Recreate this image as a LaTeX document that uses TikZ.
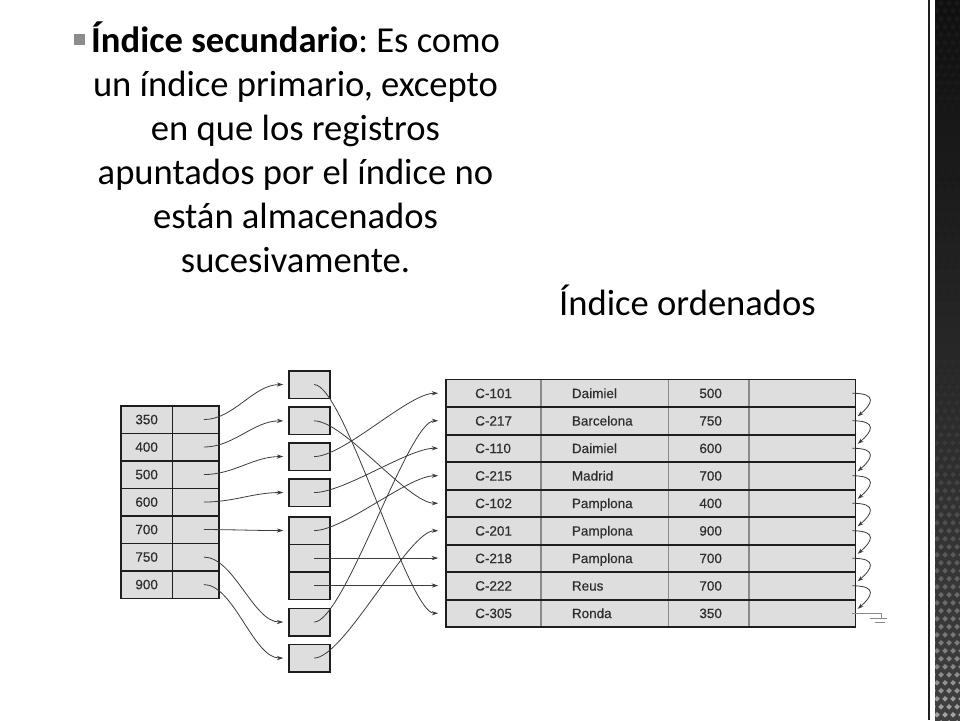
\documentclass[tikz,border=0pt]{standalone}
\usepackage{fontspec}
\setmainfont{Carlito}
\newfontfamily\tabfont{Liberation Sans}[FakeBold=0.4]
\usetikzlibrary{arrows.meta}
\definecolor{cellgray}{HTML}{DEDEDE}
\definecolor{linedark}{HTML}{1E1E1E}
\definecolor{ptrcol}{HTML}{3C3C3C}
\definecolor{txtcol}{HTML}{2E2E2E}
\definecolor{colgray}{HTML}{8A8A8A}
\definecolor{bulletgray}{HTML}{8C8C8C}
\frenchspacing
\begin{document}
\begin{tikzpicture}[x=1pt,y=-1pt,
  titletxt/.style={font=\fontsize{36.6}{44}\selectfont, anchor=base, inner sep=0pt},
  rowbox/.style={fill=cellgray, anchor=north west, inner sep=0pt, minimum height=27.5pt},
  cellbox/.style={draw=linedark, line width=1.6pt, fill=cellgray, anchor=north west, inner sep=0pt, minimum height=27.5pt, font=\tabfont\fontsize{13.5}{15}\selectfont, text=txtcol},
  bucket/.style={cellbox, minimum width=41pt},
  tabtxt/.style={font=\tabfont\fontsize{13.5}{15}\selectfont, text=txtcol, anchor=base west, inner sep=0pt},
  ptr/.style={draw=ptrcol, line width=0.8pt, -{Stealth[length=6.5pt,width=4.2pt]}},
]
\useasboundingbox (0,0) rectangle (960,720);
\fill[white] (0,0) rectangle (960,720);

% ---- right decorative strip
\fill[linedark] (927.5,0) rectangle (929.8,720);
\shade[top color=black!94, bottom color=black!75] (935,0) rectangle (960,720);
\begin{scope}
\clip (935,0) rectangle (960,720);
\foreach \j in {0,...,90}{
  \pgfmathtruncatemacro\dpct{10+56*(\j/90)*(\j/90)*(\j/90)}
  \definecolor{dmcol}{gray}{0.\ifnum\dpct<10 0\fi\dpct}
  \foreach \i in {0,...,3}{
    \fill[dmcol] ({933+\i*8+mod(\j,2)*4},{\j*8}) -- ++(2.8,2.8) -- ++(-2.8,2.8) -- ++(-2.8,-2.8) -- cycle;
  }
}
\end{scope}

% ---- title text
\node[titletxt] (t1) at (295.5,52) {\textbf{Índice secundario}: Es como};
\node[titletxt] (t2) at (295.5,96) {un índice primario, excepto};
\node[titletxt] (t3) at (295.5,140) {en que los registros};
\node[titletxt] (t4) at (295.5,184) {apuntados por el índice no};
\node[titletxt] (t5) at (295.5,228) {están almacenados};
\node[titletxt] (t6) at (295.5,272) {sucesivamente.};
\node[fill=bulletgray, minimum size=11pt, inner sep=0pt, anchor=south east] (bul) at ([xshift=-6pt,yshift=7pt]t1.base west) {};
\node[titletxt] (ord) at (687.5,315) {Índice ordenados};

% ---- left index table
\foreach \v [count=\i] in {350,400,500,600,700,750,900}{
  \node[cellbox, minimum width=51.7pt] (la\i) at (120,{405+27.5*(\i-1)}) {\v};
  \node[cellbox, minimum width=46.6pt] (lb\i) at (171.7,{405+27.5*(\i-1)}) {};
}

% ---- middle buckets
\node[bucket] (m1) at (288.3,370) {};
\node[bucket] (m2) at (288.3,406.3) {};
\node[bucket] (m3) at (288.3,442) {};
\node[bucket] (m4) at (288.3,478) {};
\node[bucket] (m5a) at (288.3,516) {};
\node[bucket] (m5b) at (288.3,543.5) {};
\node[bucket] (m5c) at (288.3,571) {};
\node[bucket] (m6) at (288.3,607.5) {};
\node[bucket] (m7) at (288.3,643.5) {};

% ---- right data table
\foreach \i in {1,...,9}{
  \node[rowbox, minimum width=409.3pt] (r\i) at (445.7,{379.3+27.5*(\i-1)}) {};
}
\foreach \x in {541,668.3,749}{
  \draw[colgray, line width=1.1pt] (\x,379.3) -- (\x,626.8);
}
\foreach \i in {1,...,9}{
  \draw[linedark, line width=1.6pt] (r\i.north west) rectangle (r\i.south east);
}
\foreach \c/\n/\b [count=\i] in {C-101/Daimiel/500, C-217/Barcelona/750, C-110/Daimiel/600, C-215/Madrid/700, C-102/Pamplona/400, C-201/Pamplona/900, C-218/Pamplona/700, C-222/Reus/700, C-305/Ronda/350}{
  \path (r\i.west) ++(29.3,4.8) node[tabtxt] (c\i) {\c};
  \path (r\i.west) ++(126,4.8) node[tabtxt] (n\i) {\n};
  \path (r\i.west) ++(253.5,4.8) node[tabtxt] (b\i) {\b};
}

% ---- pointers: left table -> buckets
\foreach \a/\m in {1/m1,2/m2,3/m3,4/m4,5/m5a,6/m6,7/m7}{
  \draw[ptr] ([xshift=8pt]lb\a.center) .. controls +(30,0) and +(-30,0) .. ([xshift=-5pt]\m.west);
}

% ---- pointers: buckets -> data rows
\foreach \m/\r in {m1/r9,m2/r5,m3/r1,m4/r3,m5a/r4,m6/r2,m7/r6}{
  \draw[ptr] ([xshift=4.5pt]\m.center) .. controls +(30,0) and +(-30,0) .. ([xshift=-7.5pt]\r.west);
}
\draw[ptr] ([xshift=4.5pt]m5b.center) -- ([xshift=-7.5pt]m5b.center -| r7.west);
\draw[ptr] ([xshift=4.5pt]m5c.center) -- ([xshift=-7.5pt]m5c.center -| r8.west);

% ---- chain pointers on the right
\foreach \i/\j in {1/2,2/3,3/4,4/5,5/6,6/7,7/8,8/9}{
  \draw[ptr, -{Stealth[length=6pt,width=4pt]}] ([xshift=-3pt]r\i.east) .. controls +(26,0) and +(14,-12) .. ([xshift=2.3pt,yshift=4.4pt]r\j.east);
}

% ---- null pointer (ground) on the last row
\coordinate (gnd) at (881.7,618.3);
\draw[colgray, line width=1pt] ([xshift=-3pt]r9.east) -| (gnd);
\draw[colgray, line width=1pt] ([xshift=-11.7pt]gnd) -- ([xshift=5.6pt]gnd);
\draw[colgray, line width=1pt] ([xshift=-7.2pt,yshift=-4.3pt]gnd) -- ([xshift=2.8pt,yshift=-4.3pt]gnd);
\end{tikzpicture}
\end{document}
